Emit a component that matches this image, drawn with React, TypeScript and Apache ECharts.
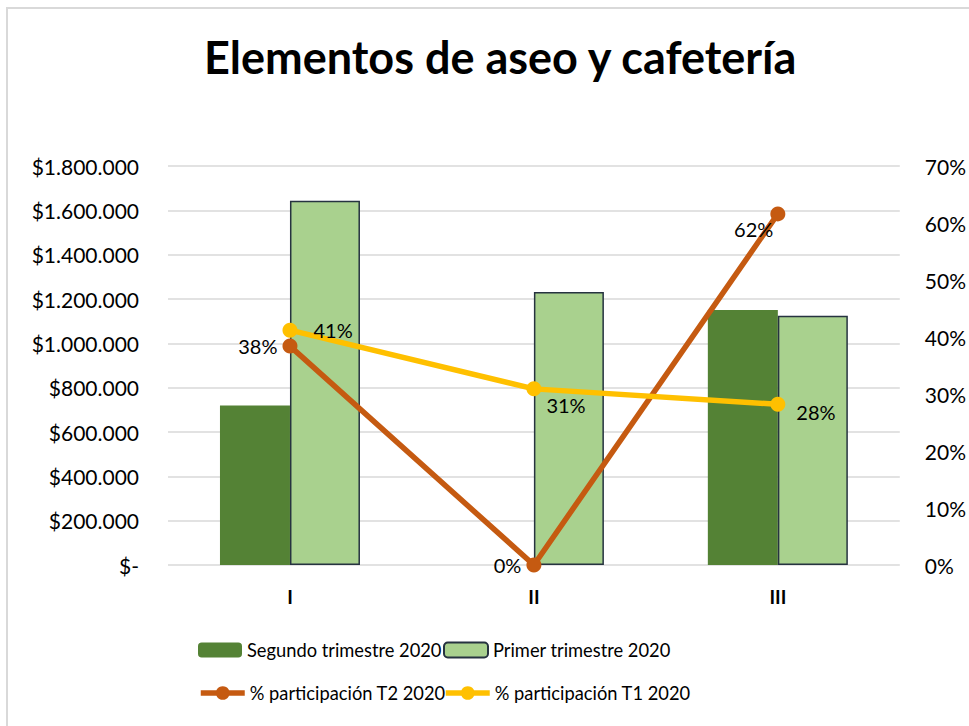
import React, { useEffect, useRef } from "react";
import * as echarts from "echarts";

const categories = ["I", "II", "III"];
const segundoTrimestre = [720000, 0, 1150000];
const primerTrimestre = [1643000, 1232000, 1124000];
const participacionT2 = [38.4, 0, 61.6];
const participacionT1 = [41.2, 30.9, 28.2];
const leftTicks = { min: 0, max: 1800000, interval: 200000 };
const rightTicks = { min: 0, max: 70, interval: 10 };

const FONT = "Lato";

function money(v: number): string {
  if (v === 0) return "$-";
  return "$" + String(Math.round(v)).replace(/\B(?=(\d{3})+(?!\d))/g, ".");
}

export default function App() {
  const ref = useRef<HTMLDivElement>(null);
  useEffect(() => {
    if (!ref.current) return;
    const chart = echarts.init(ref.current, null, { renderer: "svg" });
    const labelStyle = { color: "#000", fontFamily: FONT, fontSize: 20 };
    const t2Pos: any[] = [
      { position: "left", offset: [0, 0] },
      { position: "left", offset: [0, 0] },
      { position: "left", offset: [8, 15] },
    ];
    const t1Pos: any[] = [
      { position: "right", offset: [11, 0] },
      { position: "right", offset: [0, 16] },
      { position: "right", offset: [6, 8] },
    ];
    const legendBase = {
      itemWidth: 44,
      itemHeight: 15,
      itemGap: 5,
      padding: 0,
      textStyle: { color: "#000", fontFamily: FONT, fontSize: 18.3 },
    };
    const lineLegend = {
      ...legendBase,
      itemHeight: 17,
      lineStyle: { width: 5.5 },
    };
    chart.setOption({
      animation: false,
      backgroundColor: "#fff",
      title: {
        text: "Elementos de aseo y cafetería",
        left: 199,
        top: 29,
        textStyle: { fontFamily: FONT, fontWeight: "bold", fontSize: 45, color: "#000" },
      },
      graphic: [
        {
          type: "rect",
          shape: { x: 7, y: 8, width: 1100, height: 1100 },
          style: { fill: "none", stroke: "#d9d9d9", lineWidth: 2 },
          silent: true,
        },
      ],
      legend: [
        { ...legendBase, left: 198, top: 641, data: ["Segundo trimestre 2020"] },
        { ...legendBase, left: 443, top: 641, data: ["Primer trimestre 2020"] },
        { ...lineLegend, left: 198, top: 684, data: ["% participación T2 2020"] },
        { ...lineLegend, left: 443, top: 684, data: ["% participación T1 2020"] },
      ],
      grid: { left: 168, right: 69, top: 166, bottom: 161 },
      xAxis: {
        type: "category",
        data: categories,
        axisLine: { show: false },
        axisTick: { show: false },
        axisLabel: {
          margin: 22,
          color: "#000",
          fontFamily: FONT,
          fontWeight: "bold",
          fontSize: 19,
        },
      },
      yAxis: [
        {
          type: "value",
          ...leftTicks,
          axisLine: { show: false },
          axisTick: { show: false },
          splitLine: { lineStyle: { color: "#d9d9d9", width: 1.5 } },
          axisLabel: {
            margin: 29,
            color: "#000",
            fontFamily: FONT,
            fontSize: 21,
            formatter: (v: number) => money(v),
          },
        },
        {
          type: "value",
          ...rightTicks,
          position: "right",
          axisLine: { show: false },
          axisTick: { show: false },
          splitLine: { show: false },
          axisLabel: {
            margin: 25,
            color: "#000",
            fontFamily: FONT,
            fontSize: 21,
            formatter: "{value}%",
          },
        },
      ],
      series: [
        {
          name: "Segundo trimestre 2020",
          type: "bar",
          data: segundoTrimestre,
          barWidth: 70,
          barGap: "0%",
          itemStyle: { color: "#548235" },
        },
        {
          name: "Primer trimestre 2020",
          type: "bar",
          data: primerTrimestre,
          barWidth: 70,
          barGap: "0%",
          itemStyle: { color: "#A9D18E", borderColor: "#263340", borderWidth: 1.5 },
        },
        {
          name: "% participación T2 2020",
          type: "line",
          yAxisIndex: 1,
          data: participacionT2.map((v, i) => ({
            value: v,
            label: { show: true, ...t2Pos[i] },
          })),
          symbol: "circle",
          symbolSize: 15,
          lineStyle: { color: "#C55A11", width: 5.5 },
          itemStyle: { color: "#C55A11" },
          label: { ...labelStyle, formatter: (p: any) => Math.round(p.value) + "%" },
          z: 3,
        },
        {
          name: "% participación T1 2020",
          type: "line",
          yAxisIndex: 1,
          data: participacionT1.map((v, i) => ({
            value: v,
            label: { show: true, ...t1Pos[i] },
          })),
          symbol: "circle",
          symbolSize: 15,
          lineStyle: { color: "#FFC000", width: 5.5 },
          itemStyle: { color: "#FFC000" },
          label: { ...labelStyle, formatter: (p: any) => Math.round(p.value) + "%" },
          z: 4,
        },
      ],
    });
    return () => chart.dispose();
  }, []);
  return (
    <div
      ref={ref}
      style={{ position: "fixed", left: 0, top: 0, width: 969, height: 726, background: "#fff" }}
    />
  );
}
